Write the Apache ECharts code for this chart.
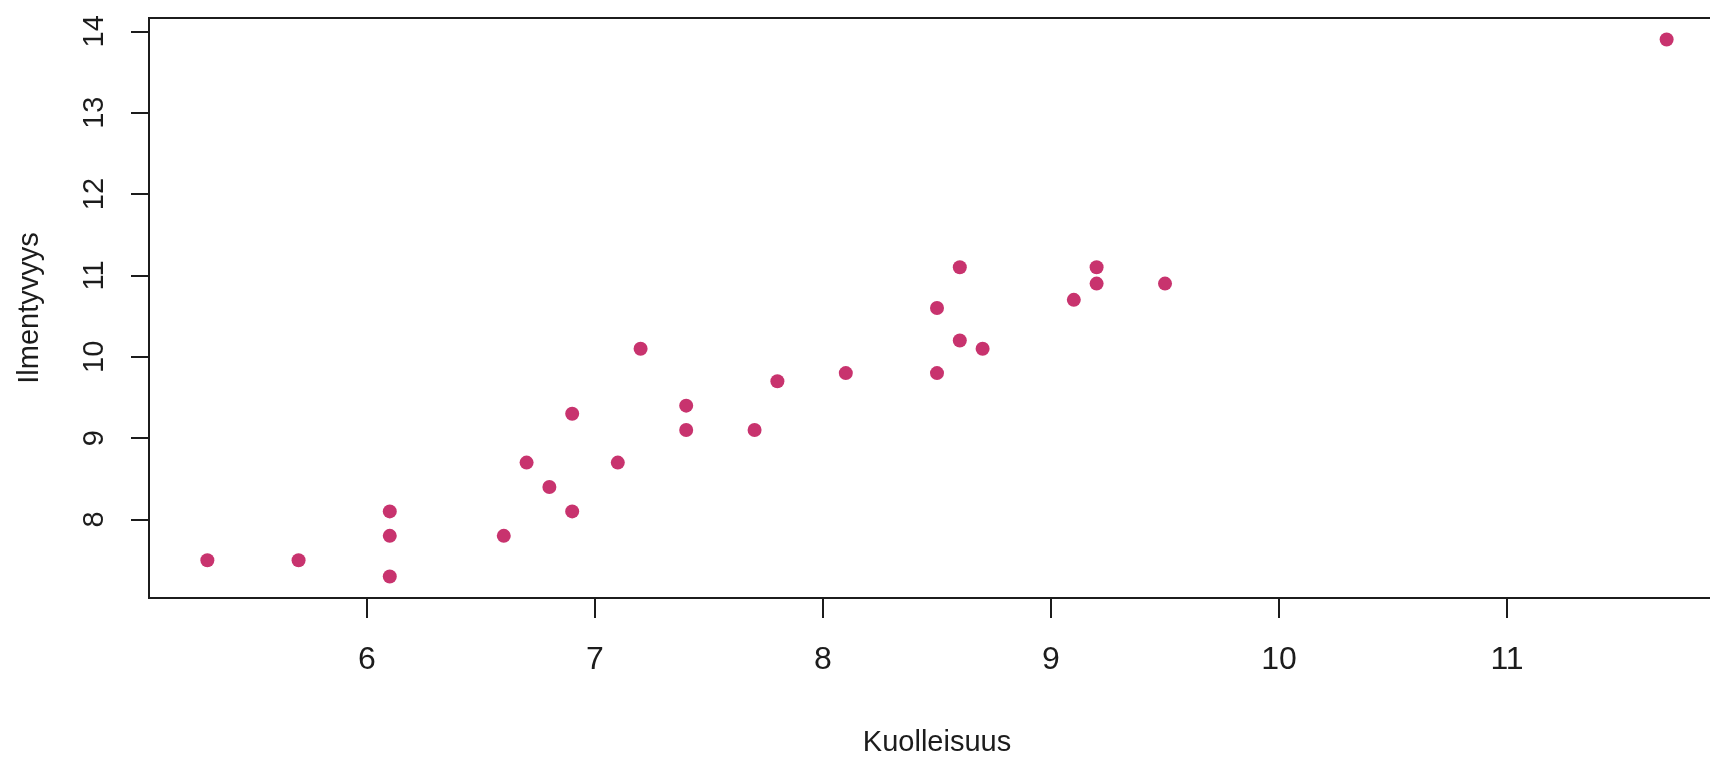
<!DOCTYPE html>
<html>
<head>
<meta charset="utf-8">
<title>Kuolleisuus ja ilmentyvyys</title>
<script src="https://cdn.jsdelivr.net/npm/echarts@6/dist/echarts.min.js"></script>
<style>
  html, body { margin: 0; padding: 0; background: #ffffff; overflow: hidden; }
  #chart { width: 1710px; height: 760px; }
</style>
</head>
<body>
<div id="chart"></div>
<script>
// Kuolleisuus (x) and ilmentyvyys (y), one entry per observation
const kuolleisuus = [5.3, 5.7, 6.1, 6.1, 6.1, 6.6, 6.7, 6.8, 6.9, 6.9, 7.1, 7.2, 7.4, 7.4,
                     7.7, 7.8, 8.1, 8.5, 8.5, 8.6, 8.6, 8.7, 9.1, 9.2, 9.2, 9.5, 11.7];
const ilmentyvyys = [7.5, 7.5, 8.1, 7.8, 7.3, 7.8, 8.7, 8.4, 8.1, 9.3, 8.7, 10.1, 9.4, 9.1,
                     9.1, 9.7, 9.8, 10.6, 9.8, 11.1, 10.2, 10.1, 10.7, 11.1, 10.9, 10.9, 13.9];

// Tick positions on each axis
const xTicks = [6, 7, 8, 9, 10, 11];
const yTicks = [8, 9, 10, 11, 12, 13, 14];

const xTitle = 'Kuolleisuus';
const yTitle = 'Ilmentyvyys';

// Axis ranges padded by 4% of the data span on each side
function paddedRange(values) {
  const lo = Math.min(...values), hi = Math.max(...values);
  const pad = (hi - lo) * 0.04;
  return [lo - pad, hi + pad];
}
const [xMin, xMax] = paddedRange(kuolleisuus);
const [yMin, yMax] = paddedRange(ilmentyvyys);

const points = kuolleisuus.map((x, i) => [x, ilmentyvyys[i]]);

const FONT = "'Liberation Sans', Arial, sans-serif";
const INK = '#1c1c1c';

const chart = echarts.init(document.getElementById('chart'), null, { renderer: 'canvas' });
chart.setOption({
  backgroundColor: '#ffffff',
  animation: false,
  // plot box runs past the right edge of the canvas
  grid: {
    left: 149, top: 18, height: 580, width: 1576,
    outerBoundsMode: 'none',
    containLabel: false,
    show: true, borderColor: INK, borderWidth: 2, backgroundColor: 'transparent'
  },
  xAxis: {
    type: 'value',
    min: xMin, max: xMax,
    name: xTitle,
    nameLocation: 'middle',
    nameGap: 145,
    nameTextStyle: { fontFamily: FONT, fontSize: 29, color: INK, verticalAlign: 'middle' },
    axisLine: { show: false },
    splitLine: { show: false },
    axisTick: { show: true, inside: false, length: 20, customValues: xTicks,
                lineStyle: { color: INK, width: 2 } },
    axisLabel: { show: true, customValues: xTicks, margin: 62, verticalAlign: 'middle',
                 fontFamily: FONT, fontSize: 32, color: INK,
                 formatter: v => String(v) }
  },
  yAxis: {
    type: 'value',
    min: yMin, max: yMax,
    name: yTitle,
    nameLocation: 'middle',
    nameRotate: 90,
    nameGap: 119,
    nameTextStyle: { fontFamily: FONT, fontSize: 29, color: INK, verticalAlign: 'middle', align: 'center' },
    axisLine: { show: false },
    splitLine: { show: false },
    axisTick: { show: true, inside: false, length: 18, customValues: yTicks,
                lineStyle: { color: INK, width: 2 } },
    axisLabel: { show: true, customValues: yTicks, margin: 54, rotate: 90,
                 align: 'center', verticalAlign: 'middle',
                 fontFamily: FONT, fontSize: 29, color: INK,
                 formatter: v => String(v) }
  },
  series: [{
    type: 'scatter',
    data: points,
    symbol: 'circle',
    symbolSize: 14,
    itemStyle: { color: '#c8336e', opacity: 1 },
    clip: false
  }]
});
</script>
</body>
</html>
